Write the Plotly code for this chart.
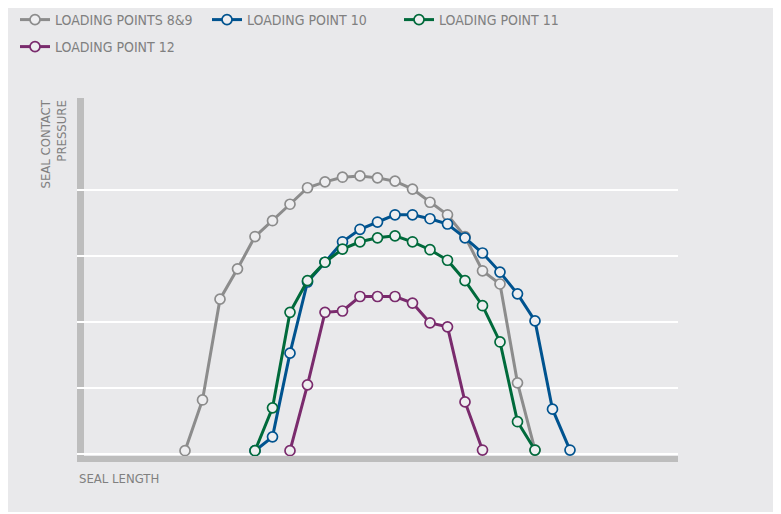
import plotly.graph_objects as go

# ---- data (x = position index along seal, y = relative contact pressure) ----
x_lp89 = list(range(0, 21))
y_lp89 = [0.05, 0.82, 2.35, 2.81, 3.30, 3.54, 3.79, 4.04, 4.13, 4.20, 4.22,
          4.19, 4.14, 4.02, 3.82, 3.63, 3.30, 2.78, 2.58, 1.08, 0.06]

x_lp10 = list(range(4, 23))
y_lp10 = [0.05, 0.26, 1.53, 2.61, 2.91, 3.22, 3.41, 3.52, 3.63, 3.63,
          3.57, 3.49, 3.28, 3.05, 2.76, 2.43, 2.02, 0.68, 0.06]

x_lp11 = list(range(4, 21))
y_lp11 = [0.05, 0.70, 2.15, 2.63, 2.91, 3.11, 3.22, 3.28, 3.31, 3.22,
          3.10, 2.94, 2.63, 2.25, 1.70, 0.49, 0.06]

x_lp12 = list(range(6, 18))
y_lp12 = [0.05, 1.05, 2.15, 2.17, 2.39, 2.39, 2.39, 2.29, 1.99, 1.93, 0.79, 0.06]

series_names = ["LOADING POINTS 8&9", "LOADING POINT 10", "LOADING POINT 11", "LOADING POINT 12"]
y_tickvals = [0, 1, 2, 3, 4]

# ---- styles ----
PANEL = "#e9e9eb"
colors = ["#8c8c8c", "#00538f", "#006a3b", "#7a2b6d"]
legend_ids = ["legend", "legend", "legend", "legend2"]
FONT = "Liberation Sans Narrow, DejaVu Sans Condensed, Roboto, sans-serif"
TXT = "#808080"

fig = go.Figure()
for name, xs, ys, c, lg in zip(series_names,
                               [x_lp89, x_lp10, x_lp11, x_lp12],
                               [y_lp89, y_lp10, y_lp11, y_lp12],
                               colors, legend_ids):
    fig.add_trace(go.Scatter(
        x=xs, y=ys, name=name, mode="lines+markers",
        line=dict(color=c, width=3),
        marker=dict(symbol="circle", size=10, color="#eeeef0",
                    line=dict(color=c, width=1.7)),
        cliponaxis=False, legend=lg,
    ))

# figure sits inside the page's 8px body margin
W, H = 773, 504
L, R, T, B = 69, 103, 90, 56
pw, ph = W - L - R, H - T - B


def px_x(x):  # figure pixel -> paper x
    return (x - L) / pw


def px_y(y):  # figure pixel -> paper y
    return (T + ph - y) / ph


legend_common = dict(
    orientation="h", xref="container", yref="container",
    xanchor="left", yanchor="middle",
    entrywidth=147, entrywidthmode="pixels",
    bgcolor="rgba(0,0,0,0)",
    font=dict(family=FONT, size=14, color=TXT),
    traceorder="normal",
)

fig.update_layout(
    width=W, height=H,
    margin=dict(l=L, r=R, t=T, b=B, pad=0, autoexpand=False),
    paper_bgcolor=PANEL,
    plot_bgcolor=PANEL,
    font=dict(family=FONT, size=13, color=TXT),
    showlegend=True,
    legend=dict(x=7 / W, y=1 - 12 / H, **legend_common),
    legend2=dict(x=7 / W, y=1 - 39 / H, **legend_common),
    xaxis=dict(
        range=[-6.171, 28.171], showgrid=False, zeroline=False,
        showticklabels=False, ticks="",
        showline=True, linecolor="#bdbdbd", linewidth=6,
    ),
    yaxis=dict(
        range=[-0.0303, 5.402], tickvals=y_tickvals,
        showgrid=True, gridcolor="white", gridwidth=1.6,
        zeroline=False, showticklabels=False, ticks="", showline=False,
    ),
    shapes=[
        # left axis bar
        dict(type="rect", xref="paper", yref="paper",
             x0=0, x1=7 / pw, y0=0, y1=1,
             fillcolor="#bdbdbd", line=dict(width=0), layer="below"),
    ],
    annotations=[
        dict(text="SEAL CONTACT<br>PRESSURE", textangle=-90,
             xref="paper", yref="paper", x=px_x(63), y=1,
             xanchor="right", yanchor="top", align="right",
             showarrow=False, font=dict(family=FONT, size=13, color=TXT)),
        dict(text="SEAL LENGTH", xref="paper", yref="paper",
             x=0, y=px_y(470), xanchor="left", yanchor="middle",
             showarrow=False, font=dict(family=FONT, size=13, color=TXT)),
    ],
)

fig.write_html("out.html")
